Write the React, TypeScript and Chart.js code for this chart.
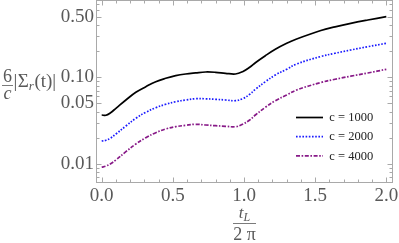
import { useEffect, useRef } from "react";
import { Chart, registerables } from "chart.js";

Chart.register(...registerables);

// t_L / (2π)
const tValues = [0.0, 0.03, 0.06, 0.1, 0.17, 0.24, 0.31, 0.38, 0.45, 0.52, 0.59, 0.66, 0.73, 0.8, 0.87, 0.94, 0.99, 1.04, 1.08, 1.15, 1.22, 1.3, 1.37, 1.54, 1.64, 1.75, 1.87, 2.0];
// (6/c)|Σ_r(t)|
const c1000 = [0.0367, 0.0364, 0.0387, 0.0438, 0.0546, 0.067, 0.0777, 0.0888, 0.0971, 0.1041, 0.1089, 0.1121, 0.1148, 0.1139, 0.1109, 0.1089, 0.1157, 0.1301, 0.1469, 0.1769, 0.2096, 0.2458, 0.2755, 0.3451, 0.3807, 0.4178, 0.456, 0.4977];
const c2000 = [0.01841, 0.01875, 0.01978, 0.02216, 0.0274, 0.03361, 0.0394, 0.04453, 0.04873, 0.05221, 0.05462, 0.05654, 0.05639, 0.05565, 0.05462, 0.05362, 0.05654, 0.06353, 0.07254, 0.08875, 0.106, 0.1233, 0.1419, 0.1732, 0.1886, 0.2058, 0.2246, 0.2458];
const c4000 = [0.009162, 0.009483, 0.01, 0.01112, 0.01386, 0.017, 0.02009, 0.02294, 0.02531, 0.0269, 0.02792, 0.02867, 0.02814, 0.02762, 0.02719, 0.0269, 0.02867, 0.03213, 0.03667, 0.04501, 0.05362, 0.06236, 0.0712, 0.0869, 0.0946, 0.1027, 0.1118, 0.1233];
const seriesLabels = ["c = 1000", "c = 2000", "c = 4000"];

const xTickLabels = [0, 0.5, 1, 1.5, 2];
const xMinorTicks = [0.1, 0.2, 0.3, 0.4, 0.6, 0.7, 0.8, 0.9, 1.1, 1.2, 1.3, 1.4, 1.6, 1.7, 1.8, 1.9];
const yTickLabels = [0.01, 0.05, 0.1, 0.5];
const yMinorTicks = [0.007, 0.008, 0.009, 0.02, 0.03, 0.04, 0.06, 0.07, 0.08, 0.09, 0.2, 0.3, 0.4, 0.6, 0.7];

const SERIF = "'Liberation Serif', 'Times New Roman', 'DejaVu Serif', serif";
const TEXT = "#595959";
const FRAME = "#a9a9a9";

export default function App() {
  const ref = useRef<HTMLCanvasElement | null>(null);

  useEffect(() => {
    if (!ref.current) return;

    const framePlugin = {
      id: "mmaFrame",
      beforeDatasetsDraw(chart: any) {
        const { ctx, chartArea: a, scales } = chart;
        const xs = scales.x;
        const ys = scales.y;
        ctx.save();
        ctx.strokeStyle = FRAME;
        ctx.lineWidth = 1;
        const L = Math.round(a.left) + 0.5;
        const R = Math.round(a.right) - 0.5;
        const T = Math.round(a.top) + 0.5;
        const B = Math.round(a.bottom) - 0.5;
        ctx.beginPath();
        const xt = (v: number, len: number) => {
          const px = Math.round(xs.getPixelForValue(v)) + 0.5;
          ctx.moveTo(px, B);
          ctx.lineTo(px, B - len);
          ctx.moveTo(px, T);
          ctx.lineTo(px, T + len);
        };
        const yt = (v: number, len: number) => {
          const py = Math.round(ys.getPixelForValue(v)) + 0.5;
          ctx.moveTo(L, py);
          ctx.lineTo(L + len, py);
          ctx.moveTo(R, py);
          ctx.lineTo(R - len, py);
        };
        xTickLabels.forEach((v) => xt(v, 5));
        xMinorTicks.forEach((v) => xt(v, 3));
        yTickLabels.forEach((v) => yt(v, 5));
        yMinorTicks.forEach((v) => yt(v, 3));
        ctx.stroke();
        ctx.strokeRect(L, T, R - L, B - T);
        ctx.restore();
      },
      afterDraw(chart: any) {
        const { ctx, chartArea: a } = chart;
        ctx.save();
        ctx.fillStyle = TEXT;
        ctx.strokeStyle = TEXT;
        ctx.textBaseline = "alphabetic";

        // y-axis label: 6/c |Σ_r(t)|
        ctx.font = `18px ${SERIF}`;
        ctx.textAlign = "center";
        ctx.fillText("6", 7.5, 82);
        ctx.lineWidth = 0.8;
        ctx.beginPath();
        ctx.moveTo(2, 85.5);
        ctx.lineTo(13, 85.5);
        ctx.stroke();
        ctx.font = `italic 18px ${SERIF}`;
        ctx.fillText("c", 7.5, 99);
        ctx.textAlign = "left";
        let x = 13.5;
        ctx.font = `19px ${SERIF}`;
        ctx.fillText("|", x, 87);
        x += ctx.measureText("|").width + 0.5;
        ctx.fillText("Σ", x, 87);
        x += ctx.measureText("Σ").width;
        ctx.font = `italic 13px ${SERIF}`;
        ctx.fillText("r", x, 90);
        x += ctx.measureText("r").width + 0.5;
        ctx.font = `19px ${SERIF}`;
        ctx.fillText("(t)|", x, 87);

        // x-axis label: t_L / 2π
        const cx = (a.left + a.right) / 2;
        ctx.font = `italic 17px ${SERIF}`;
        const tw = ctx.measureText("t").width;
        ctx.font = `italic 12px ${SERIF}`;
        const lw = ctx.measureText("L").width;
        const nx = cx - (tw + lw) / 2;
        ctx.font = `italic 17px ${SERIF}`;
        ctx.fillText("t", nx, 218);
        ctx.font = `italic 12px ${SERIF}`;
        ctx.fillText("L", nx + tw, 220.5);
        ctx.beginPath();
        ctx.moveTo(cx - 11.5, 223.5);
        ctx.lineTo(cx + 11.5, 223.5);
        ctx.stroke();
        ctx.font = `18px ${SERIF}`;
        ctx.textAlign = "center";
        ctx.fillText("2 π", cx, 240);

        // legend
        const ds = chart.data.datasets;
        ctx.textAlign = "left";
        ctx.textBaseline = "middle";
        ds.forEach((d: any, i: number) => {
          const ly = 117.5 + i * 19.2;
          ctx.save();
          ctx.strokeStyle = d.borderColor;
          ctx.lineWidth = d.borderWidth;
          ctx.setLineDash(d.borderDash || []);
          ctx.beginPath();
          ctx.moveTo(a.right - 97, ly);
          ctx.lineTo(a.right - 70, ly);
          ctx.stroke();
          ctx.restore();
          ctx.fillStyle = "#222";
          ctx.font = `12.5px ${SERIF}`;
          ctx.fillText(d.label, a.right - 63.7, ly + 0.5);
        });
        ctx.restore();
      },
    };

    const mk = (vals: number[]) => tValues.map((t, i) => ({ x: t, y: vals[i] }));

    const chart = new Chart(ref.current, {
      type: "line",
      data: {
        datasets: [
          {
            label: seriesLabels[0],
            data: mk(c1000),
            borderColor: "#000000",
            borderWidth: 1.7,
            pointRadius: 0,
            tension: 0.4,
            fill: false,
          },
          {
            label: seriesLabels[1],
            data: mk(c2000),
            borderColor: "#1a1aff",
            borderWidth: 1.7,
            borderDash: [1.6, 1.6],
            pointRadius: 0,
            tension: 0.4,
            fill: false,
          },
          {
            label: seriesLabels[2],
            data: mk(c4000),
            borderColor: "#881a88",
            borderWidth: 1.7,
            borderDash: [4, 1.6, 1.6, 1.6],
            pointRadius: 0,
            tension: 0.4,
            fill: false,
          },
        ],
      },
      options: {
        animation: false,
        responsive: false,
        devicePixelRatio: 1,
        layout: { padding: { top: 0, right: 6, left: 0, bottom: 0 } },
        plugins: { legend: { display: false }, tooltip: { enabled: false }, title: { display: false } },
        scales: {
          x: {
            type: "linear",
            min: -0.04,
            max: 2.047,
            afterFit: (s: any) => {
              s.height = 60;
              s.paddingLeft = 0;
              s.paddingRight = 0;
              s.paddingTop = 0;
              s.paddingBottom = 0;
            },
            afterBuildTicks: (s: any) => {
              s.ticks = xTickLabels.map((v) => ({ value: v }));
            },
            grid: { display: false, drawTicks: false },
            border: { display: false },
            ticks: {
              padding: 2,
              color: TEXT,
              font: { family: SERIF, size: 19 },
              maxRotation: 0,
              autoSkip: false,
              callback: (v: any) => Number(v).toFixed(1),
            },
          },
          y: {
            type: "logarithmic",
            min: 0.00604,
            max: 0.7752,
            afterFit: (s: any) => {
              s.width = 96;
              s.paddingLeft = 0;
              s.paddingRight = 0;
              s.paddingTop = 0;
              s.paddingBottom = 0;
            },
            afterBuildTicks: (s: any) => {
              s.ticks = yTickLabels.map((v) => ({ value: v }));
            },
            grid: { display: false, drawTicks: false },
            border: { display: false },
            ticks: {
              padding: 2,
              color: TEXT,
              font: { family: SERIF, size: 19 },
              autoSkip: false,
              callback: (v: any) => Number(v).toFixed(2),
            },
          },
        },
      },
      plugins: [framePlugin],
    } as any);

    return () => chart.destroy();
  }, []);

  return (
    <div style={{ position: "fixed", left: 0, top: 0, width: 399, height: 243 }}>
      <canvas ref={ref} width={399} height={243} style={{ display: "block", width: 399, height: 243 }} />
    </div>
  );
}
